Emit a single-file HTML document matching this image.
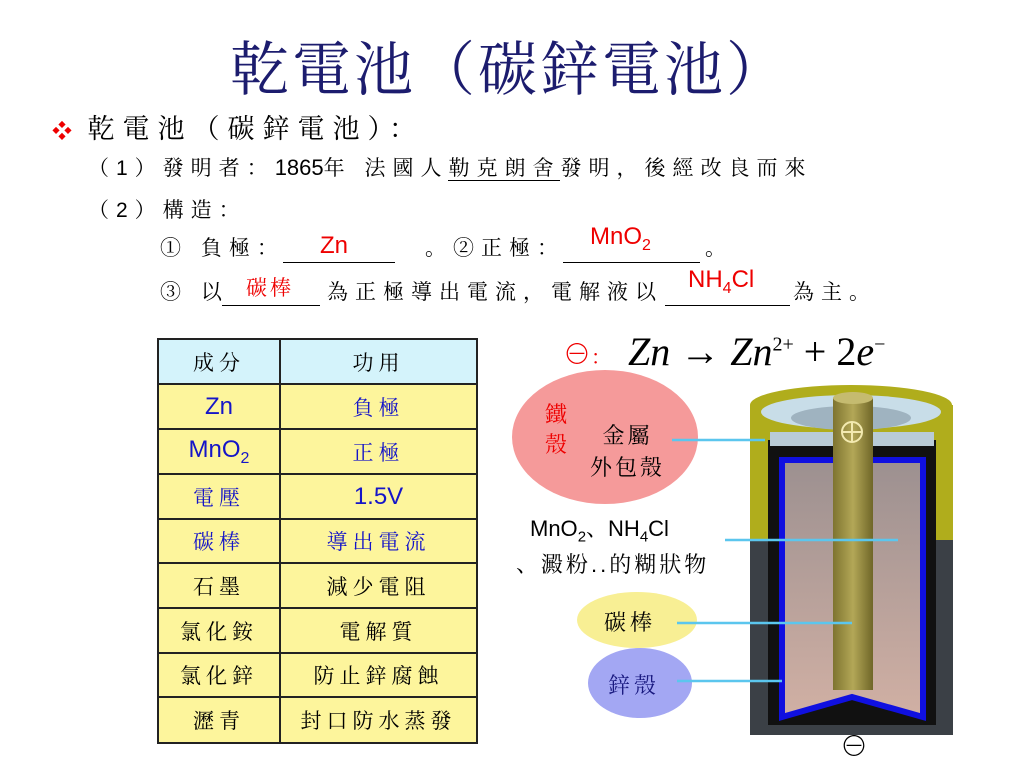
<!DOCTYPE html>
<html><head><meta charset="utf-8"><style>
body{margin:0;width:1024px;height:768px;background:#fff;position:relative;overflow:hidden;font-family:"Liberation Sans","Noto Serif CJK SC",serif;color:#000}
.a{position:absolute;white-space:nowrap}
.t{font-family:"Liberation Serif","Noto Serif CJK SC",serif;font-size:59px;color:#1c1c6e;left:230px;top:22px;letter-spacing:3px}
.l{font-size:21px;letter-spacing:7px}
.r{color:#e00}
.ul{position:absolute;height:0;border-top:1.5px solid #000}
table{position:absolute;left:157px;top:338px;border-collapse:collapse;width:321px}
td{border:2px solid #222;text-align:center;font-size:21px;background:#fdf59c;padding:0;letter-spacing:5px}
td:first-child{width:120px}
.b{color:#1515c8}
.s{font-family:"Liberation Sans",sans-serif;font-size:24px;letter-spacing:0}
</style></head><body>
<div class="a t">乾電池（碳鋅電池）</div>
<div class="a" style="left:52px;top:107px;font-size:27px;letter-spacing:8px"><span style="color:#e00;font-size:20px;letter-spacing:0">❖</span> 乾電池（碳鋅電池）：</div>
<div class="a l" style="left:88px;top:152px">（1）發明者：<span style="font-family:'Liberation Sans';letter-spacing:0;font-size:22px">1865</span>年 法國人<span style="border-bottom:1.5px solid #000">勒克朗舍</span>發明，後經改良而來</div>
<div class="a l" style="left:88px;top:194px">（2）構造：</div>
<div class="a l" style="left:160px;top:232px">① 負極：</div>
<div class="ul" style="left:283px;top:262px;width:112px"></div>
<div class="a r" style="left:320px;top:232px;font-size:24px">Zn</div>
<div class="a l" style="left:425px;top:232px">。②正極：</div>
<div class="ul" style="left:563px;top:262px;width:137px"></div>
<div class="a r" style="left:590px;top:223px;font-size:24px">MnO<sub style="font-size:16px">2</sub></div>
<div class="a l" style="left:705px;top:232px">。</div>
<div class="a l" style="left:160px;top:276px">③ 以</div>
<div class="ul" style="left:222px;top:305px;width:98px"></div>
<div class="a r" style="left:246px;top:272px;font-size:21px;letter-spacing:3px">碳棒</div>
<div class="a l" style="left:327px;top:276px">為正極導出電流，電解液以</div>
<div class="ul" style="left:665px;top:305px;width:125px"></div>
<div class="a r" style="left:688px;top:266px;font-size:24px">NH<sub style="font-size:16px">4</sub>Cl</div>
<div class="a l" style="left:793px;top:276px">為主。</div>
<table>
<tr style="height:45px"><td style="background:#d4f3fb">成分</td><td style="background:#d4f3fb">功用</td></tr>
<tr style="height:45px"><td class="b s">Zn</td><td class="b">負極</td></tr>
<tr style="height:45px"><td class="b s">MnO<sub style="font-size:16px">2</sub></td><td class="b">正極</td></tr>
<tr style="height:45px"><td class="b">電壓</td><td class="b s">1.5V</td></tr>
<tr style="height:44px"><td class="b">碳棒</td><td class="b">導出電流</td></tr>
<tr style="height:45px"><td>石墨</td><td>減少電阻</td></tr>
<tr style="height:45px"><td>氯化銨</td><td>電解質</td></tr>
<tr style="height:44px"><td>氯化鋅</td><td>防止鋅腐蝕</td></tr>
<tr style="height:46px"><td>瀝青</td><td>封口防水蒸發</td></tr>
</table>
<svg class="a" style="left:0;top:0" width="1024" height="768">
<defs><linearGradient id="g" x1="0" y1="0" x2="0" y2="1"><stop offset="0" stop-color="#9c9090"/><stop offset="1" stop-color="#d1b0a4"/></linearGradient>
<linearGradient id="rod" x1="0" y1="0" x2="1" y2="0"><stop offset="0" stop-color="#7e7430"/><stop offset=".5" stop-color="#b3a757"/><stop offset="1" stop-color="#6f6628"/></linearGradient></defs>
<rect x="750" y="540" width="203" height="195" fill="#3b4046"/>
<rect x="750" y="405" width="203" height="135" fill="#b0ad1c"/>
<ellipse cx="851" cy="405" rx="101" ry="20" fill="#b0ad1c"/>
<ellipse cx="851" cy="412" rx="90" ry="17" fill="#c8dde8"/>
<ellipse cx="851" cy="418" rx="60" ry="12" fill="#9fb3c0"/>
<rect x="768" y="440" width="168" height="285" fill="#111"/>
<rect x="770" y="432" width="164" height="14" fill="#b9cbd6"/>
<path d="M782 460 L923 460 L923 717 L852 697 L782 717 Z" fill="url(#g)" stroke="#1010e0" stroke-width="6"/>
<rect x="833" y="398" width="40" height="292" fill="url(#rod)"/>
<ellipse cx="853" cy="398" rx="20" ry="6" fill="#c5bb70"/>
<circle cx="852" cy="432" r="10" fill="none" stroke="#f3eab0" stroke-width="2"/><path d="M842 432H862M852 422V442" stroke="#f3eab0" stroke-width="2"/>
<ellipse cx="605" cy="437" rx="93" ry="67" fill="#f59a9a"/>
<ellipse cx="637" cy="620" rx="60" ry="28" fill="#f8ef94"/>
<ellipse cx="640" cy="683" rx="52" ry="35" fill="#a3a7f3"/>
<g stroke="#5bc6ee" stroke-width="2.5"><path d="M672 440H765M725 540H898M677 623H852M677 681H782"/></g>
</svg>
<div class="a" style="left:545px;top:400px;font-size:22px;color:#e00;line-height:30px">鐵<br>殼</div>
<div class="a" style="left:590px;top:420px;font-size:22px;line-height:32px;text-align:center;letter-spacing:3px">金屬<br>外包殼</div>
<div class="a" style="left:530px;top:512px;font-size:22px">MnO<sub style="font-size:15px">2</sub>、NH<sub style="font-size:15px">4</sub>Cl</div>
<div class="a" style="left:516px;top:548px;font-size:22px;letter-spacing:3px">、澱粉..的糊狀物</div>
<div class="a" style="left:604px;top:606px;font-size:22px;letter-spacing:4px">碳棒</div>
<div class="a" style="left:608px;top:669px;font-size:22px;color:#1a1a80;letter-spacing:4px">鋅殼</div>
<div class="a" style="left:840px;top:725px;font-size:28px">⊖</div>
<div class="a" style="left:563px;top:333px;font-size:28px;color:#e00">⊖<span style="font-size:20px">：</span></div>
<div class="a" style="left:628px;top:328px;font-family:'Liberation Serif',serif;font-size:40px;font-style:italic">Zn <span style="font-style:normal">→</span> Zn<sup style="font-size:20px;font-style:normal">2+</sup> <span style="font-style:normal">+ 2</span>e<sup style="font-size:20px;font-style:normal">−</sup></div>
</body></html>
